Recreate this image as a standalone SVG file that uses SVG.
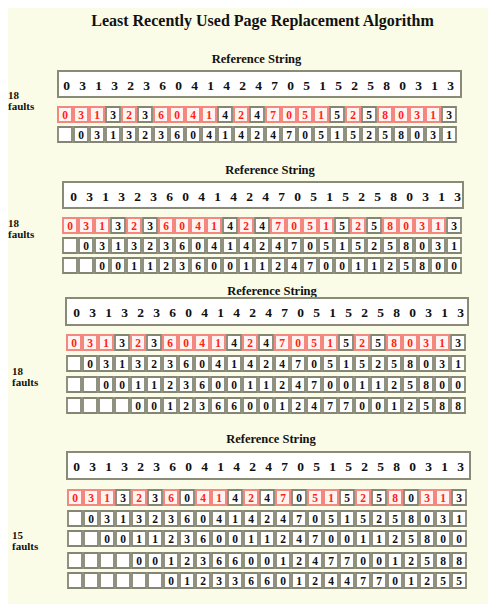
<svg xmlns="http://www.w3.org/2000/svg" xmlns:xlink="http://www.w3.org/1999/xlink" width="488" height="604" viewBox="0 0 488 604">
<style>
.t{font-family:"Liberation Serif","Times New Roman",serif;font-weight:bold;fill:#111}
.title{font-size:16px;text-anchor:middle}
.rs{font-size:12.5px;text-anchor:middle}
.ref{font-size:13.5px;text-anchor:middle}
.d{font-size:11.5px;text-anchor:middle}
.rd{fill:#ff2414}
.f{font-size:11px}
.box{fill:#fff;stroke:#8a8a78;stroke-width:2}
.cell{fill:#fff;stroke:#858574;stroke-width:1.8}
.red{fill:#fff4f1;stroke:#f3897e;stroke-width:2}
</style>
<defs>
<path id="row" d="M0 0h14v15h-14zM16 0h14v15h-14zM32 0h14v15h-14zM48 0h14v15h-14zM64 0h14v15h-14zM80 0h14v15h-14zM96 0h14v15h-14zM112 0h14v15h-14zM128 0h14v15h-14zM144 0h14v15h-14zM160 0h14v15h-14zM176 0h14v15h-14zM192 0h14v15h-14zM208 0h14v15h-14zM224 0h14v15h-14zM240 0h14v15h-14zM256 0h14v15h-14zM272 0h14v15h-14zM288 0h14v15h-14zM304 0h14v15h-14zM320 0h14v15h-14zM336 0h14v15h-14zM352 0h14v15h-14zM368 0h14v15h-14zM384 0h14v15h-14z"/>
<path id="r1red" d="M0 0h14v15h-14zM16 0h14v15h-14zM32 0h14v15h-14zM64 0h14v15h-14zM96 0h14v15h-14zM112 0h14v15h-14zM128 0h14v15h-14zM144 0h14v15h-14zM176 0h14v15h-14zM208 0h14v15h-14zM224 0h14v15h-14zM240 0h14v15h-14zM256 0h14v15h-14zM288 0h14v15h-14zM320 0h14v15h-14zM336 0h14v15h-14zM352 0h14v15h-14zM368 0h14v15h-14z"/>
<path id="r1hit" d="M48 0h14v15h-14zM80 0h14v15h-14zM160 0h14v15h-14zM192 0h14v15h-14zM272 0h14v15h-14zM304 0h14v15h-14zM384 0h14v15h-14z"/>
<path id="r4red" d="M0 0h14v15h-14zM16 0h14v15h-14zM32 0h14v15h-14zM64 0h14v15h-14zM96 0h14v15h-14zM128 0h14v15h-14zM144 0h14v15h-14zM176 0h14v15h-14zM208 0h14v15h-14zM240 0h14v15h-14zM256 0h14v15h-14zM288 0h14v15h-14zM320 0h14v15h-14zM352 0h14v15h-14zM368 0h14v15h-14z"/>
<path id="r4hit" d="M48 0h14v15h-14zM80 0h14v15h-14zM112 0h14v15h-14zM160 0h14v15h-14zM192 0h14v15h-14zM224 0h14v15h-14zM272 0h14v15h-14zM304 0h14v15h-14zM336 0h14v15h-14zM384 0h14v15h-14z"/>
</defs>
<rect x="0" y="0" width="488" height="604" fill="#ffffff"/>
<rect x="8" y="8" width="480" height="596" fill="#fbfce8"/>
<text class="t title" x="262.5" y="26">Least Recently Used Page Replacement Algorithm</text>

<g id="lru-2-frames">
<text class="t rs" x="256.5" y="63">Reference String</text>
<rect class="box" x="58" y="71" width="403" height="26"/>
<text class="t ref" transform="translate(66.5,90)" x="0 8 16 24 32 40 48 56 64 72 80 88 96 104 112 120 128 136 144 152 160 168 176 184 192 200 208 216 224 232 240 248 256 264 272 280 288 296 304 312 320 328 336 344 352 360 368 376 384">0 3 1 3 2 3 6 0 4 1 4 2 4 7 0 5 1 5 2 5 8 0 3 1 3</text>
<text class="t f" x="8" y="99">18</text>
<text class="t f" x="8" y="110">faults</text>
<g transform="translate(58,107)">
<use xlink:href="#r1red" class="red"/><use xlink:href="#r1hit" class="cell"/>
<text class="t d" y="11.5" x="7 23 39 55 71 87 103 119 135 151 167 183 199 215 231 247 263 279 295 311 327 343 359 375 391"><tspan class="rd">031</tspan>3<tspan class="rd">2</tspan>3<tspan class="rd">6041</tspan>4<tspan class="rd">2</tspan>4<tspan class="rd">7051</tspan>5<tspan class="rd">2</tspan>5<tspan class="rd">8031</tspan>3</text>
</g>
<g transform="translate(58,127)">
<use xlink:href="#row" class="cell"/>
<text class="t d" y="11.5" x="23 39 55 71 87 103 119 135 151 167 183 199 215 231 247 263 279 295 311 327 343 359 375 391">031323604142470515258031</text>
</g>
</g>

<g id="lru-3-frames">
<text class="t rs" x="270" y="174">Reference String</text>
<rect class="box" x="63" y="182" width="400" height="26"/>
<text class="t ref" transform="translate(73.5,201)" x="0 8 16 24 32 40 48 56 64 72 80 88 96 104 112 120 128 136 144 152 160 168 176 184 192 200 208 216 224 232 240 248 256 264 272 280 288 296 304 312 320 328 336 344 352 360 368 376 384">0 3 1 3 2 3 6 0 4 1 4 2 4 7 0 5 1 5 2 5 8 0 3 1 3</text>
<text class="t f" x="8" y="227">18</text>
<text class="t f" x="8" y="238">faults</text>
<g transform="translate(63,218)">
<use xlink:href="#r1red" class="red"/><use xlink:href="#r1hit" class="cell"/>
<text class="t d" y="11.5" x="7 23 39 55 71 87 103 119 135 151 167 183 199 215 231 247 263 279 295 311 327 343 359 375 391"><tspan class="rd">031</tspan>3<tspan class="rd">2</tspan>3<tspan class="rd">6041</tspan>4<tspan class="rd">2</tspan>4<tspan class="rd">7051</tspan>5<tspan class="rd">2</tspan>5<tspan class="rd">8031</tspan>3</text>
</g>
<g transform="translate(63,238)">
<use xlink:href="#row" class="cell"/>
<text class="t d" y="11.5" x="23 39 55 71 87 103 119 135 151 167 183 199 215 231 247 263 279 295 311 327 343 359 375 391">031323604142470515258031</text>
</g>
<g transform="translate(63,258)">
<use xlink:href="#row" class="cell"/>
<text class="t d" y="11.5" x="39 55 71 87 103 119 135 151 167 183 199 215 231 247 263 279 295 311 327 343 359 375 391">00112360011247001125800</text>
</g>
</g>

<g id="lru-4-frames">
<text class="t rs" x="272" y="295">Reference String</text>
<rect class="box" x="66" y="298" width="402" height="27"/>
<text class="t ref" transform="translate(76.5,317)" x="0 8 16 24 32 40 48 56 64 72 80 88 96 104 112 120 128 136 144 152 160 168 176 184 192 200 208 216 224 232 240 248 256 264 272 280 288 296 304 312 320 328 336 344 352 360 368 376 384">0 3 1 3 2 3 6 0 4 1 4 2 4 7 0 5 1 5 2 5 8 0 3 1 3</text>
<text class="t f" x="12" y="375">18</text>
<text class="t f" x="12" y="386">faults</text>
<g transform="translate(67,335)">
<use xlink:href="#r1red" class="red"/><use xlink:href="#r1hit" class="cell"/>
<text class="t d" y="11.5" x="7 23 39 55 71 87 103 119 135 151 167 183 199 215 231 247 263 279 295 311 327 343 359 375 391"><tspan class="rd">031</tspan>3<tspan class="rd">2</tspan>3<tspan class="rd">6041</tspan>4<tspan class="rd">2</tspan>4<tspan class="rd">7051</tspan>5<tspan class="rd">2</tspan>5<tspan class="rd">8031</tspan>3</text>
</g>
<g transform="translate(67,356)">
<use xlink:href="#row" class="cell"/>
<text class="t d" y="11.5" x="23 39 55 71 87 103 119 135 151 167 183 199 215 231 247 263 279 295 311 327 343 359 375 391">031323604142470515258031</text>
</g>
<g transform="translate(67,377)">
<use xlink:href="#row" class="cell"/>
<text class="t d" y="11.5" x="39 55 71 87 103 119 135 151 167 183 199 215 231 247 263 279 295 311 327 343 359 375 391">00112360011247001125800</text>
</g>
<g transform="translate(67,398)">
<use xlink:href="#row" class="cell"/>
<text class="t d" y="11.5" x="71 87 103 119 135 151 167 183 199 215 231 247 263 279 295 311 327 343 359 375 391">001236600124770012588</text>
</g>
</g>

<g id="lru-5-frames">
<text class="t rs" x="271" y="443">Reference String</text>
<rect class="box" x="67" y="452" width="403" height="27"/>
<text class="t ref" transform="translate(76.5,471)" x="0 8 16 24 32 40 48 56 64 72 80 88 96 104 112 120 128 136 144 152 160 168 176 184 192 200 208 216 224 232 240 248 256 264 272 280 288 296 304 312 320 328 336 344 352 360 368 376 384">0 3 1 3 2 3 6 0 4 1 4 2 4 7 0 5 1 5 2 5 8 0 3 1 3</text>
<text class="t f" x="12" y="539">15</text>
<text class="t f" x="12" y="550">faults</text>
<g transform="translate(68,490)">
<use xlink:href="#r4red" class="red"/><use xlink:href="#r4hit" class="cell"/>
<text class="t d" y="11.5" x="7 23 39 55 71 87 103 119 135 151 167 183 199 215 231 247 263 279 295 311 327 343 359 375 391"><tspan class="rd">031</tspan>3<tspan class="rd">2</tspan>3<tspan class="rd">6</tspan>0<tspan class="rd">41</tspan>4<tspan class="rd">2</tspan>4<tspan class="rd">7</tspan>0<tspan class="rd">51</tspan>5<tspan class="rd">2</tspan>5<tspan class="rd">8</tspan>0<tspan class="rd">31</tspan>3</text>
</g>
<g transform="translate(68,511)">
<use xlink:href="#row" class="cell"/>
<text class="t d" y="11.5" x="23 39 55 71 87 103 119 135 151 167 183 199 215 231 247 263 279 295 311 327 343 359 375 391">031323604142470515258031</text>
</g>
<g transform="translate(68,531)">
<use xlink:href="#row" class="cell"/>
<text class="t d" y="11.5" x="39 55 71 87 103 119 135 151 167 183 199 215 231 247 263 279 295 311 327 343 359 375 391">00112360011247001125800</text>
</g>
<g transform="translate(68,553)">
<use xlink:href="#row" class="cell"/>
<text class="t d" y="11.5" x="71 87 103 119 135 151 167 183 199 215 231 247 263 279 295 311 327 343 359 375 391">001236600124770012588</text>
</g>
<g transform="translate(68,573)">
<use xlink:href="#row" class="cell"/>
<text class="t d" y="11.5" x="103 119 135 151 167 183 199 215 231 247 263 279 295 311 327 343 359 375 391">0123366012447701255</text>
</g>
</g>
</svg>
